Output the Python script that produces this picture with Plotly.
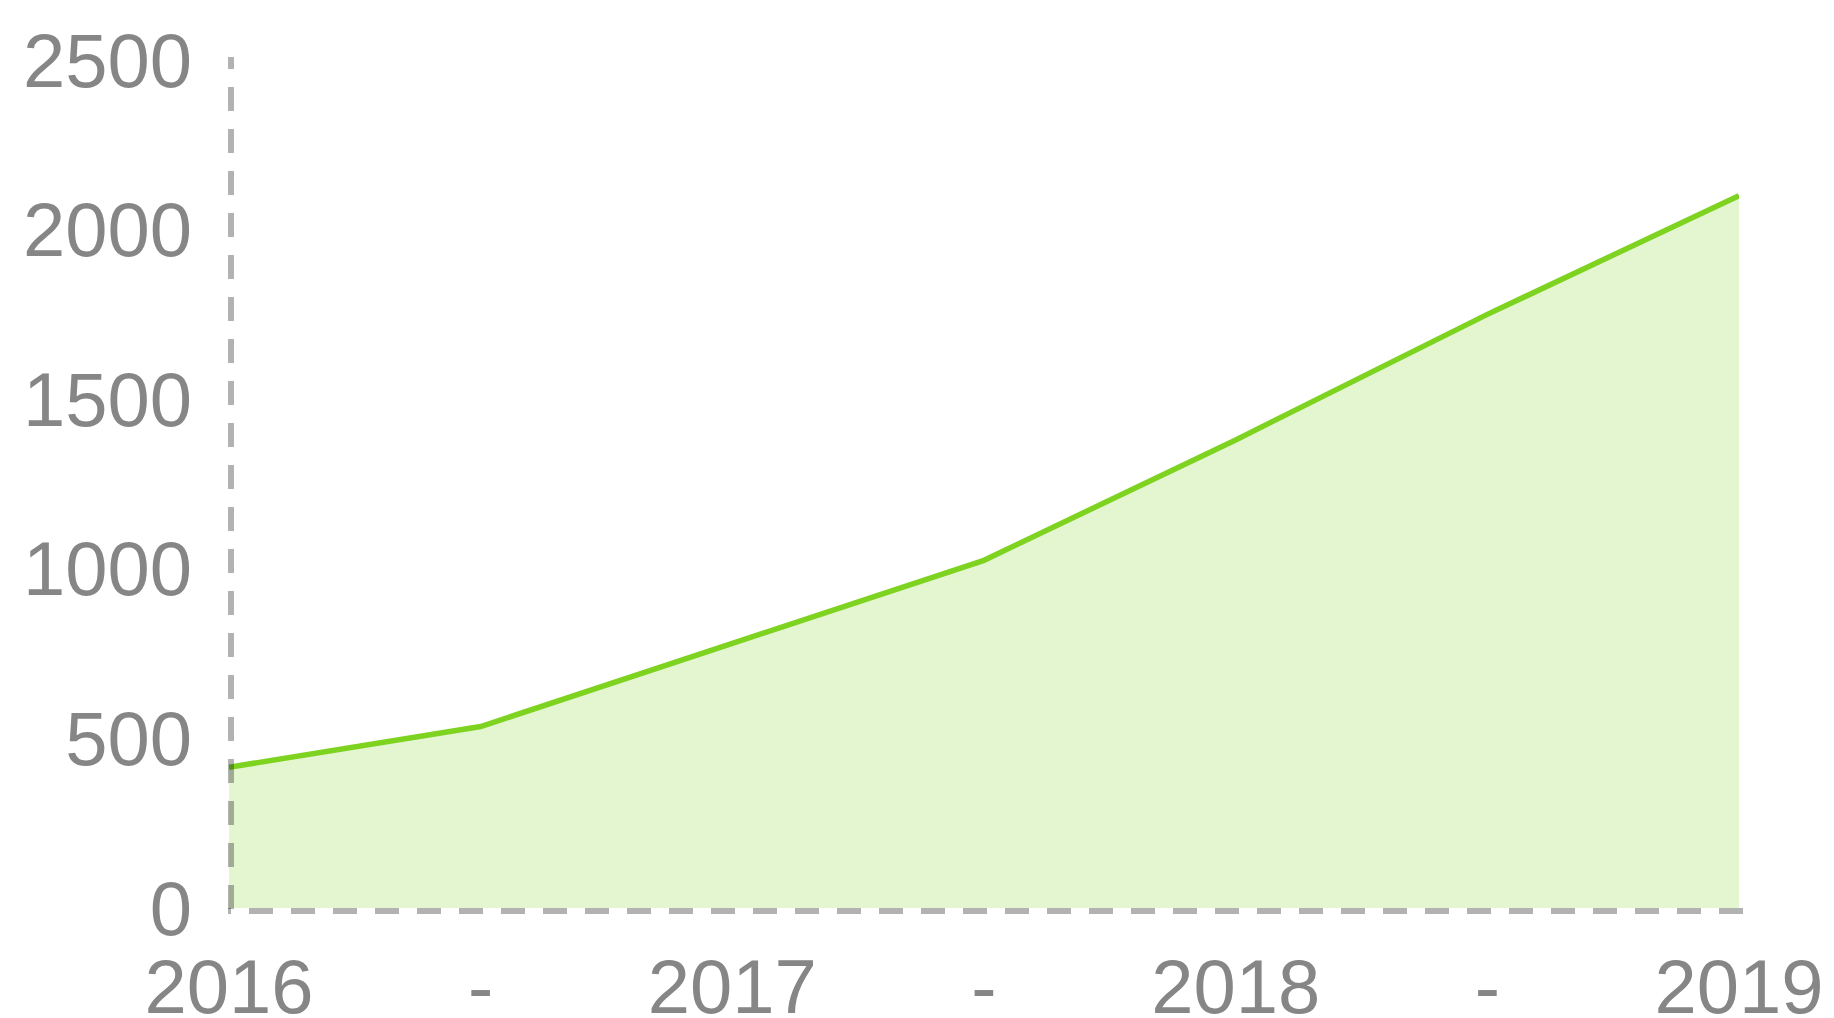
import plotly.graph_objects as go

# Data
periods = [2016, 2016.5, 2017, 2017.5, 2018, 2018.5, 2019]
values = [415, 535, 780, 1025, 1380, 1750, 2100]

tick_positions = [2016, 2016.5, 2017, 2017.5, 2018, 2018.5, 2019]
tick_labels = ["2016", "-", "2017", "-", "2018", "-", "2019"]
y_ticks = [0, 500, 1000, 1500, 2000, 2500]

LINE = "#7ed321"
FILL = "rgba(126,211,33,0.21)"
AXIS = "rgba(0,0,0,0.3)"
TXT = "#868686"
FONT = "Liberation Sans, Arial, sans-serif"

# plot area geometry (figure pixels)
W, H = 1818, 1010
ML, MR, MT, MB = 221, 87, 52, 110
PW, PH = W - ML - MR, H - MT - MB

fig = go.Figure()
fig.add_trace(go.Scatter(
    x=periods, y=values, mode="lines",
    line=dict(color=LINE, width=5.5),
    fill="tozeroy", fillcolor=FILL,
    hoverinfo="skip", showlegend=False,
))

dash = "24px,18px"
# vertical axis line, drawn bottom-up
fig.add_shape(type="line", xref="x domain", yref="y domain",
              x0=2 / PW, x1=2 / PW, y0=-1 / PH, y1=1 + 3 / PH,
              line=dict(color=AXIS, width=6, dash=dash), layer="above")
# horizontal axis line, drawn right-to-left
fig.add_shape(type="line", xref="x domain", yref="y domain",
              x0=1 + 4 / PW, x1=-1 / PW, y0=-3 / PH, y1=-3 / PH,
              line=dict(color=AXIS, width=6, dash=dash), layer="above")

fig.update_layout(
    width=W, height=H,
    margin=dict(l=ML, r=MR, t=MT, b=MB, pad=0),
    paper_bgcolor="white", plot_bgcolor="white",
    font=dict(family=FONT, size=76, color=TXT),
    xaxis=dict(
        range=[2016, 2019], tickmode="array",
        tickvals=tick_positions, ticktext=tick_labels,
        showgrid=False, zeroline=False, showline=False,
        ticks="", ticklabelstandoff=28, automargin=False,
        tickfont=dict(family=FONT, size=76, color=TXT),
    ),
    yaxis=dict(
        range=[0, 2500], tickmode="array", tickvals=y_ticks,
        showgrid=False, zeroline=False, showline=False,
        ticks="", ticklabelstandoff=36, automargin=False,
        tickfont=dict(family=FONT, size=76, color=TXT),
    ),
)

fig.write_html("out.html")
